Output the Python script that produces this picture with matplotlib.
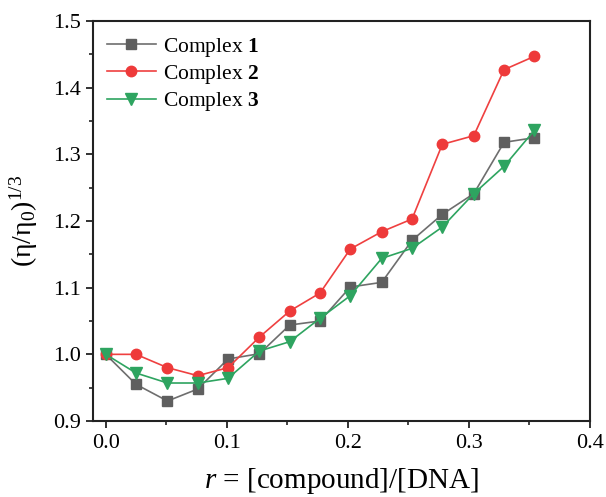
import matplotlib
matplotlib.use("Agg")
import matplotlib.pyplot as plt
from matplotlib.ticker import MultipleLocator, FormatStrFormatter

plt.rcParams['font.family'] = ['Liberation Serif', 'DejaVu Serif']
plt.rcParams['mathtext.fontset'] = 'custom'
plt.rcParams['mathtext.rm'] = 'Liberation Serif'
plt.rcParams['mathtext.it'] = 'Liberation Serif:italic'
plt.rcParams['mathtext.bf'] = 'Liberation Serif:bold'

r = [0, 0.025, 0.051, 0.076, 0.101, 0.127, 0.152, 0.177, 0.202, 0.228, 0.253, 0.278, 0.304, 0.329, 0.354]
complex1 = [1.000, 0.955, 0.930, 0.948, 0.993, 1.001, 1.044, 1.050, 1.101, 1.108, 1.171, 1.210, 1.241, 1.318, 1.325]
complex2 = [1.000, 1.000, 0.980, 0.968, 0.980, 1.026, 1.065, 1.092, 1.158, 1.184, 1.203, 1.315, 1.328, 1.427, 1.447]
complex3 = [1.000, 0.972, 0.957, 0.957, 0.964, 1.005, 1.019, 1.054, 1.088, 1.144, 1.159, 1.191, 1.241, 1.282, 1.336]
labels = ['Complex $\\mathbf{1}$', 'Complex $\\mathbf{2}$', 'Complex $\\mathbf{3}$']

fig = plt.figure(figsize=(6.06, 4.97), dpi=100)
ax = fig.add_axes([0.1535, 0.1529, 0.8201, 0.8048])

ax.plot(r, complex1, '-', color='#6e6e6e', lw=1.2, marker='s', ms=6.5,
        mfc='#5f5f5f', mec='#5f5f5f', label=labels[0])
ax.plot(r, complex2, '-', color='#ef4040', lw=1.2, marker='o', ms=7.5,
        mfc='#ee3a3a', mec='#ee3a3a', label=labels[1])
ax.plot(r, complex3, '-', color='#2ea460', lw=1.2, marker='v', ms=8,
        mfc='#2ea460', mec='#2ea460', label=labels[2])

ax.set_xlim(-0.0105, 0.4)
ax.set_ylim(0.9, 1.5)
ax.xaxis.set_major_locator(MultipleLocator(0.1))
ax.xaxis.set_minor_locator(MultipleLocator(0.05))
ax.yaxis.set_major_locator(MultipleLocator(0.1))
ax.yaxis.set_minor_locator(MultipleLocator(0.05))
ax.xaxis.set_major_formatter(FormatStrFormatter('%.1f'))
ax.yaxis.set_major_formatter(FormatStrFormatter('%.1f'))

for s in ax.spines.values():
    s.set_linewidth(1.5)
    s.set_color('#222222')
ax.tick_params(which='major', direction='out', length=5, width=1.3, labelsize=16, pad=4, colors='#222222')
ax.tick_params(which='minor', direction='out', length=3, width=1.2, colors='#222222')
ax.tick_params(labelcolor='black')

ax.set_xlabel('$r$ = [compound]/[DNA]', fontsize=21, labelpad=10)
ax.set_ylabel('(η/η$_0$)$^{1/3}$', fontsize=20, labelpad=9)

ax.legend(loc='upper left', frameon=False, fontsize=15.5, handlelength=2.3,
          handletextpad=0.3, labelspacing=0.2, borderaxespad=0.0,
          bbox_to_anchor=(0.01, 0.985))

fig.savefig('out.png', dpi=100)
